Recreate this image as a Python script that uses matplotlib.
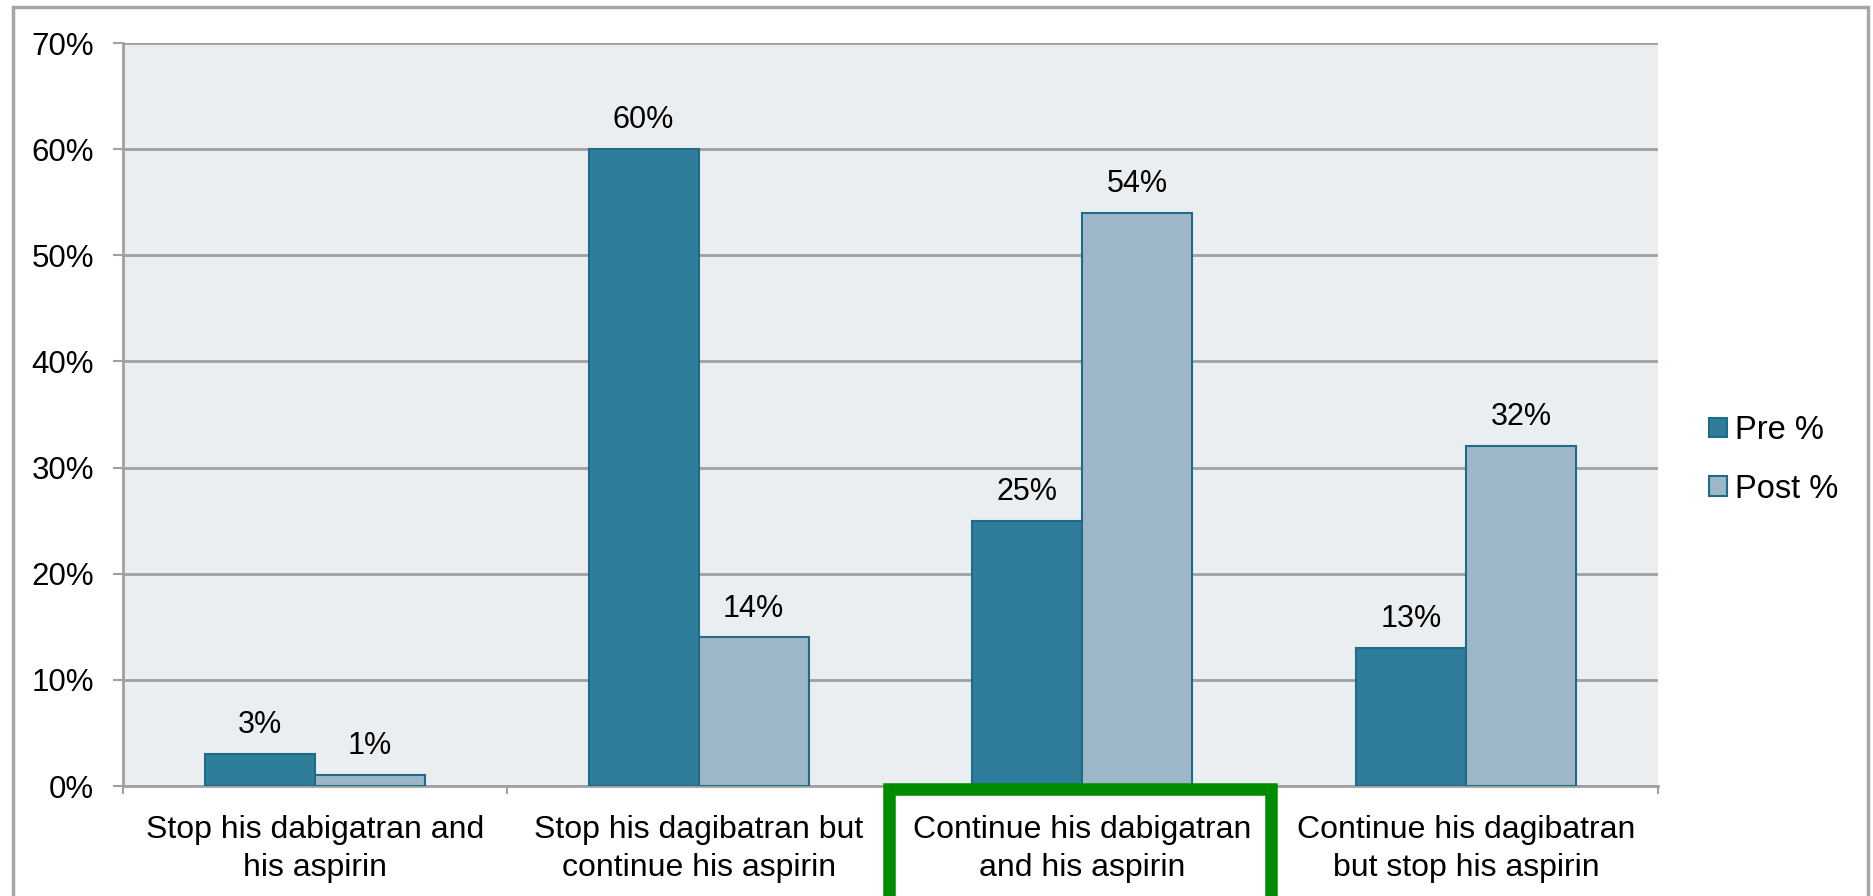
import matplotlib.pyplot as plt
from matplotlib.patches import Rectangle
from matplotlib.ticker import PercentFormatter, FixedLocator

plt.rcParams["font.family"] = ["Liberation Sans", "DejaVu Sans"]

categories = [
    "Stop his dabigatran and\nhis aspirin",
    "Stop his dagibatran but\ncontinue his aspirin",
    "Continue his dabigatran\nand his aspirin",
    "Continue his dagibatran\nbut stop his aspirin",
]
pre = [3, 60, 25, 13]
post = [1, 14, 54, 32]
series_names = ["Pre %", "Post %"]

W, H = 1873, 896
fig = plt.figure(figsize=(W / 100, H / 100), dpi=100)
ax = fig.add_axes([123 / W, (H - 786) / H, (1658 - 123) / W, (786 - 43) / H])
ax.set_facecolor("#EAEEF1")

pre_color = "#2E7E9B"
post_color = "#9DB7C9"
edge = "#1F6C89"
bw = 0.2866
xs = list(range(len(categories)))

b1 = ax.bar([x - bw / 2 for x in xs], pre, width=bw, color=pre_color,
            edgecolor=edge, linewidth=1.5, label=series_names[0], zorder=3)
b2 = ax.bar([x + bw / 2 for x in xs], post, width=bw, color=post_color,
            edgecolor=edge, linewidth=1.5, label=series_names[1], zorder=3)

for bars, vals in [(b1, pre), (b2, post)]:
    for rect, v in zip(bars, vals):
        ax.annotate(f"{v}%", (rect.get_x() + rect.get_width() / 2, v),
                    xytext=(0, 10), textcoords="offset points",
                    ha="center", va="bottom", fontsize=22)

ax.set_xlim(-0.5, 3.5)
ax.set_ylim(0, 70)
ax.set_yticks(range(0, 71, 10))
ax.yaxis.set_major_formatter(PercentFormatter(decimals=0))
ax.yaxis.grid(True, color="#A0A0A0", linewidth=2, zorder=1)
ax.set_axisbelow(True)

ax.set_xticks(xs)
ax.set_xticklabels(categories, fontsize=23, linespacing=1.35)
ax.xaxis.set_minor_locator(FixedLocator([-0.5, 0.5, 1.5, 2.5, 3.5]))
ax.tick_params(axis="x", which="major", length=0, pad=21)
ax.tick_params(axis="x", which="minor", length=6, width=1.5, color="#A0A0A0")
ax.tick_params(axis="y", length=7, width=1.5, color="#A0A0A0",
               labelsize=22.5, pad=14)

for s in ["top", "right"]:
    ax.spines[s].set_visible(False)
for s in ["left", "bottom"]:
    ax.spines[s].set_color("#A0A0A0")
    ax.spines[s].set_linewidth(2)

leg = fig.legend(handles=[b1, b2], loc="center left",
                 bbox_to_anchor=(1680 / W, 1 - 460 / H), frameon=False,
                 fontsize=23.5, handlelength=0.55, handleheight=0.55,
                 handletextpad=0.25, labelspacing=0.85)

# outer chart border
fig.patches.append(Rectangle((13 / W, -0.02), (1868 - 13) / W, 1.02 - 7 / H,
                             transform=fig.transFigure, fill=False,
                             edgecolor="#A6A6A6", linewidth=2.5))
# green highlight box
fig.patches.append(Rectangle((889 / W, -0.05), (1271 - 889) / W, (H - 789) / H + 0.05,
                             transform=fig.transFigure, fill=False,
                             edgecolor="#008C00", linewidth=9, zorder=5))

fig.savefig("out.png", dpi=100, facecolor="white")
